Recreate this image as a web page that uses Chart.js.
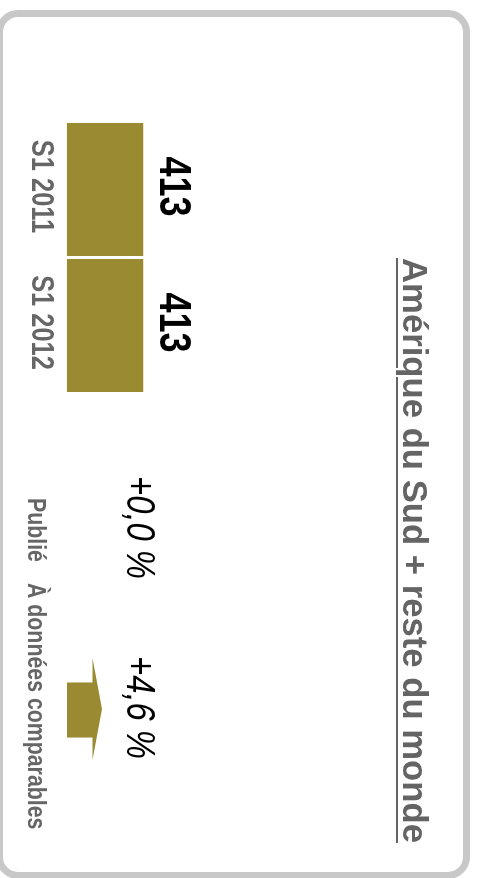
<!DOCTYPE html>
<html lang="fr">
<head>
<meta charset="utf-8">
<title>Amérique du Sud + reste du monde</title>
<script src="https://cdn.jsdelivr.net/npm/chart.js@4/dist/chart.umd.min.js"></script>
<style>
  html, body { margin: 0; padding: 0; background: #fff; overflow: hidden; }
  body { width: 478px; height: 878px; position: relative; }
  /* the panel is laid out landscape, then turned a quarter clockwise */
  #stage {
    position: absolute; left: 0; top: 0; width: 878px; height: 478px;
    transform-origin: 0 0; transform: translate(478px, 0) rotate(90deg);
  }
  .card {
    position: absolute; left: 10px; top: 7.5px; width: 869px; height: 474.5px;
    box-sizing: border-box; border: 7.5px solid #c8c8c8; border-radius: 22px; background: #fff;
  }
  #salesChart { position: absolute; left: 0; top: 0; }
  .txt { position: absolute; white-space: nowrap; line-height: 1; }
  .title {
    left: 258px; top: 43.6px; font: bold 34.7px "Liberation Sans", Arial, sans-serif; color: #646464;
    text-decoration: underline; text-underline-offset: 5px; text-decoration-thickness: 2px;
  }
  /* condensed look: regular sans squeezed horizontally */
  .pct, .leg { transform-origin: 0 0; transform: scaleX(0.82); }
  .pct { top: 315px; font: italic 40px "Liberation Sans", Arial, sans-serif; color: #000; }
  .leg { top: 426px; font: bold 26px "Liberation Sans", Arial, sans-serif; color: #666; }
  .arrow {
    position: absolute; left: 658px; top: 376px; width: 102px; height: 35.3px; background: #9a8a32;
    clip-path: polygon(50% 0, 100% 27%, 78% 27%, 78% 100%, 24% 100%, 24% 27%, 0 27%);
  }
</style>
</head>
<body>
<div id="stage">
  <div class="card"></div>
  <canvas id="salesChart" width="878" height="478"></canvas>
  <div class="txt title">Amérique du Sud + reste du monde</div>
  <div class="arrow"></div>
</div>
<script>
// Sales, half-year, in millions
const periods = ['S1 2011', 'S1 2012'];
const sales = [413, 413];
const growthLabels = ['Publié', 'À données comparables'];
const growthValues = ['+0,0 %', '+4,6 %'];
const growthLeft = [476, 656];
const labelLeft = [498, 583];

const olive = '#9a8a32';
const squeeze = 0.82;

const stage = document.getElementById('stage');
growthValues.forEach((v, i) => {
  const d = document.createElement('div');
  d.className = 'txt pct';
  d.style.left = growthLeft[i] + 'px';
  d.textContent = v;
  stage.appendChild(d);
});
growthLabels.forEach((t, i) => {
  const d = document.createElement('div');
  d.className = 'txt leg';
  d.style.left = labelLeft[i] + 'px';
  d.textContent = t;
  stage.appendChild(d);
});

// condensed text: draw into a horizontally scaled context
function narrowText(ctx, text, x, y) {
  ctx.save();
  ctx.scale(squeeze, 1);
  ctx.fillText(text, x / squeeze, y);
  ctx.restore();
}

// period names under the axis and the value above each bar
const barText = {
  id: 'barText',
  afterDatasetsDraw(chart) {
    const ctx = chart.ctx;
    const xs = chart.scales.x;
    const meta = chart.getDatasetMeta(0);
    ctx.save();
    ctx.textAlign = 'center';
    ctx.textBaseline = 'alphabetic';

    ctx.font = 'bold 31px "Liberation Sans", Arial, sans-serif';
    ctx.fillStyle = '#666';
    xs.ticks.forEach((t, i) => {
      narrowText(ctx, xs.getLabelForValue(t.value), xs.getPixelForTick(i) - 3, xs.top + 35);
    });

    ctx.font = 'bold 44px "Liberation Sans", Arial, sans-serif';
    ctx.fillStyle = '#000';
    meta.data.forEach((bar, i) => {
      narrowText(ctx, String(chart.data.datasets[0].data[i]), bar.x - 3, bar.y - 16.7);
    });
    ctx.restore();
  }
};

window.addEventListener('load', () => {
  const ctx = document.getElementById('salesChart').getContext('2d');
  new Chart(ctx, {
    type: 'bar',
    data: {
      labels: periods,
      datasets: [{
        data: sales,
        backgroundColor: olive,
        borderWidth: 0,
        barPercentage: 1,
        categoryPercentage: 0.978
      }]
    },
    options: {
      responsive: false,
      animation: false,
      layout: { padding: { left: 121.5, right: 484.5, top: 318.6, bottom: 0 } },
      plugins: { legend: { display: false }, tooltip: { enabled: false }, title: { display: false } },
      scales: {
        x: {
          grid: { display: false, drawTicks: false },
          border: { display: false },
          ticks: { display: false },
          afterFit(scale) { scale.height = 66.7; }
        },
        y: { display: false, min: 0, max: 500 }
      }
    },
    plugins: [barText]
  });
});
</script>
</body>
</html>
